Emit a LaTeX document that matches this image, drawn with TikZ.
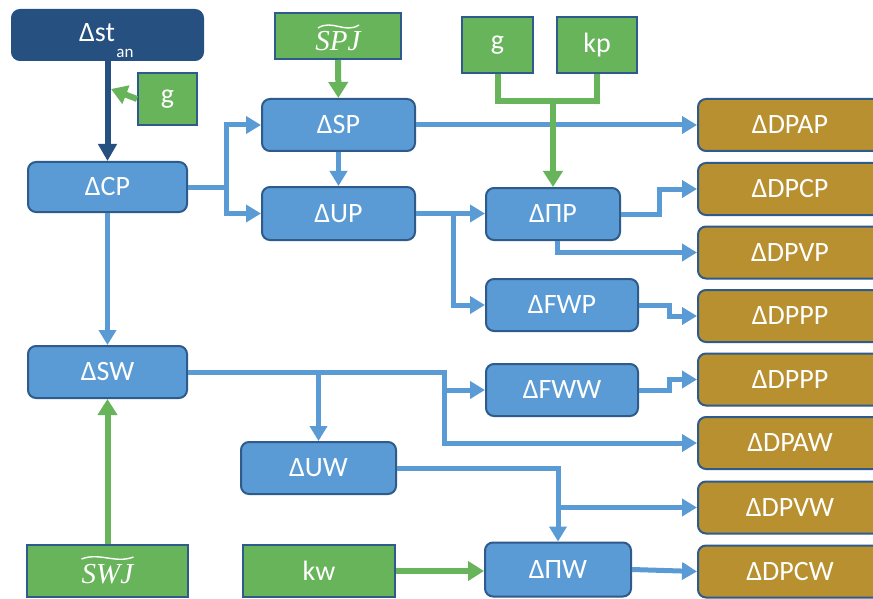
\documentclass[tikz,border=0pt]{standalone}
\usepackage{fontspec}
\setmainfont{Carlito}
\newfontfamily\myserif{Liberation Serif}
\usetikzlibrary{arrows.meta}
\definecolor{bfill}{HTML}{5B9BD5}
\definecolor{bline}{HTML}{2F5A8C}
\definecolor{dfill}{HTML}{26507F}
\definecolor{gfill}{HTML}{68B45A}
\definecolor{brfill}{HTML}{B8902F}
\definecolor{conn}{HTML}{5B9BD5}
\tikzset{
  base/.style={draw=bline, line width=2pt, text=white, font=\fontsize{28}{32}\selectfont, inner sep=0pt, minimum height=52pt},
  bbox/.style={base, fill=bfill, rounded corners=8pt},
  dbox/.style={base, fill=dfill, draw=dfill, rounded corners=8pt},
  gbox/.style={base, fill=gfill},
  brbox/.style={base, fill=brfill, rounded corners=8pt, minimum width=184pt},
  itext/.style={text=white, inner sep=0pt, font=\myserif\itshape\fontsize{29}{32}\selectfont},
  tilde/.style={draw=white, line width=1.4pt},
  bluearrow/.style={draw=conn, line width=5pt, -{Triangle[length=15pt,width=17pt]}},
  greenarrow/.style={draw=gfill, line width=6pt, -{Triangle[length=16pt,width=19pt]}},
  greenline/.style={draw=gfill, line width=6pt},
  darkarrow/.style={draw=dfill, line width=6pt, -{Triangle[length=17pt,width=18pt]}},
}
\begin{document}
\begin{tikzpicture}[x=1pt,y=-1pt]
\clip (0,0) rectangle (873,599);
\fill[white] (0,0) rectangle (873,599);
% nodes
\node[dbox, minimum width=191pt, minimum height=50pt] (st) at (107.5,35) {};
\node[text=white, font=\fontsize{28}{32}\selectfont, inner sep=0pt] (sttxt) at (97,33) {Δst};
\node[text=white, font=\fontsize{17}{20}\selectfont, inner sep=0pt] (stsub) at (125,53) {an};
\node[gbox, minimum width=59pt, minimum height=52pt] (g1) at (167.5,99) {g};
\node[bbox, minimum width=159pt, minimum height=50pt] (cp) at (107.5,187) {ΔCP};
\node[gbox, minimum width=126pt, minimum height=46pt] (spj) at (338,36) {};
\node[itext] (spjt) at (338,41) {SPJ};
\node[bbox, minimum width=153pt] (sp) at (338.5,125) {ΔSP};
\node[bbox, minimum width=153pt, minimum height=53pt] (up) at (338.5,213.5) {ΔUP};
\node[gbox, minimum width=71pt, minimum height=56pt] (g2) at (497.5,45) {g};
\node[gbox, minimum width=80pt, minimum height=56pt] (kp) at (597,45) {kp};
\node[bbox, minimum width=134pt] (pp) at (553,214) {ΔΠP};
\node[bbox, minimum width=152pt] (fwp) at (562,305) {ΔFWP};
\node[bbox, minimum width=159pt] (sw) at (107.5,372) {ΔSW};
\node[bbox, minimum width=152pt] (fww) at (562,390) {ΔFWW};
\node[bbox, minimum width=155pt] (uw) at (318.5,468) {ΔUW};
\node[bbox, minimum width=146pt, minimum height=54pt] (pw) at (558,569.5) {ΔΠW};
\node[gbox, minimum width=161pt] (swj) at (107.5,571) {};
\node[itext] (swjt) at (107.5,574) {SWJ};
\node[gbox, minimum width=152pt] (kw) at (319,571) {kw};
\node[brbox] (dpap) at (790,125) {ΔDPAP};
\node[brbox] (dpcp) at (790,189) {ΔDPCP};
\node[brbox] (dpvp) at (790,252.5) {ΔDPVP};
\node[brbox] (dpppa) at (790,316) {ΔDPPP};
\node[brbox] (dpppb) at (790,379.5) {ΔDPPP};
\node[brbox] (dpaw) at (790,443) {ΔDPAW};
\node[brbox] (dpvw) at (790,507.5) {ΔDPVW};
\node[brbox] (dpcw) at (790,571.5) {ΔDPCW};
% tildes
\draw[tilde] ([shift={(-20,-13)}]spjt.center) .. controls +(14,-9) and +(-14,9) .. ([shift={(21,-16)}]spjt.center);
\draw[tilde] ([shift={(-26,-15)}]swjt.center) .. controls +(18,-7) and +(-18,7) .. ([shift={(26,-17)}]swjt.center);
% connectors
\draw[darkarrow] (st) -- (cp);
\coordinate (gj) at (111,89);
\draw[greenarrow] (g1.west) -- (gj);
\draw[greenarrow] (spj) -- (sp);
\draw[bluearrow] (cp.east) -- ++(38,0) |- (sp.west);
\draw[bluearrow] (cp.east) -- ++(38,0) |- (up.west);
\draw[bluearrow] (sp) -- (up);
\draw[bluearrow] (sp.east) -- (dpap.west);
\draw[bluearrow] (up.east) -- (up.east -| pp.west);
\draw[bluearrow] (up.east) -- ++(37,0) |- (fwp.west);
\draw[greenline] (g2.south) -- ++(0,27) -| (kp.south);
\coordinate (gk) at (553,100);
\draw[greenarrow] (gk) -- (pp.north);
\draw[bluearrow] (pp.east) -- ++(38,0) |- (dpcp.west);
\draw[bluearrow] ([xshift=4pt]pp.south) |- (dpvp.west);
\draw[bluearrow] (fwp.east) -- ++(30,0) |- (dpppa.west);
\draw[bluearrow] (cp) -- (sw);
\draw[bluearrow] (sw.east) -| (uw.north);
\draw[bluearrow] (sw.east) -- ++(256,0) |- (dpaw.west);
\draw[bluearrow] ([xshift=-43pt]fww.west) -- (fww.west);
\draw[bluearrow] (fww.east) -- ++(30,0) |- (dpppb.west);
\draw[bluearrow] (uw.east) -| (pw.north);
\draw[bluearrow] (pw.north |- dpvw.west) -- (dpvw.west);
\draw[greenarrow] (kw.east) -- (kw.east -| pw.west);
\draw[bluearrow] (pw.east) -- (dpcw.west);
\draw[greenarrow] (swj) -- (sw);
\end{tikzpicture}
\end{document}
